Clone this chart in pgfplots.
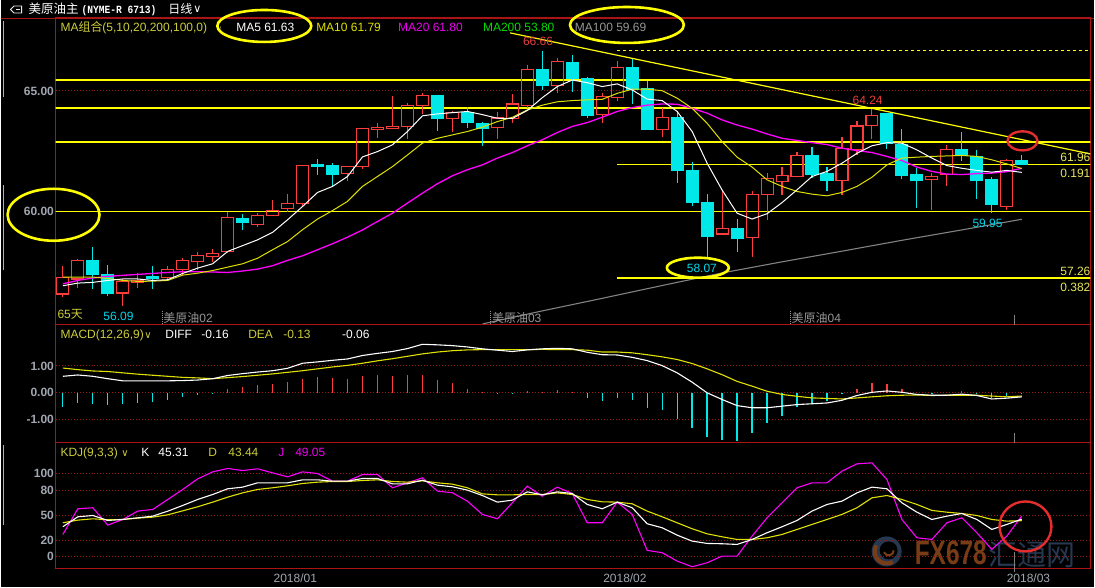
\documentclass[border=0pt]{standalone}
\usepackage{pgfplots}
\pgfplotsset{compat=1.18}
\usepackage{pgfplotstable}
\usepackage{fontspec}
\setmainfont{Liberation Sans}
\newfontfamily\cjk{Noto Sans CJK SC}
\newfontfamily\djv{DejaVu Sans}
\newfontfamily\mono{Liberation Mono}
\newcommand\fs[1]{\fontsize{#1bp}{#1bp}\selectfont}

\definecolor{framered}{RGB}{170,20,20}
\definecolor{gridred}{RGB}{150,25,25}
\definecolor{upred}{RGB}{255,60,60}
\definecolor{dncyan}{RGB}{0,232,232}
\definecolor{ma10y}{RGB}{225,225,0}
\definecolor{lvly}{RGB}{255,255,0}
\definecolor{mag}{RGB}{255,0,255}
\definecolor{ma100g}{RGB}{130,130,130}
\definecolor{tickg}{RGB}{160,166,176}
\definecolor{khaki}{RGB}{205,205,60}
\definecolor{lblred}{RGB}{235,60,60}
\definecolor{lblcyan}{RGB}{0,215,235}
\definecolor{magtxt}{RGB}{240,0,240}
\definecolor{grntxt}{RGB}{0,220,0}
\definecolor{graytxt}{RGB}{150,150,150}
\definecolor{rlbl}{RGB}{230,230,90}
\definecolor{wmbrown}{RGB}{120,60,22}
\definecolor{wmblue}{RGB}{38,55,80}
\definecolor{circred}{RGB}{230,45,45}

\pgfplotstableread{
i ma5 ma10 ma20
0 56.94 57.30 57.02
1 57.05 57.30 57.16
2 57.08 57.30 57.26
3 57.16 57.24 57.33
4 57.22 57.16 57.37
5 57.22 57.12 57.41
6 57.16 57.13 57.45
7 57.19 57.16 57.49
8 57.45 57.38 57.52
9 57.67 57.46 57.52
10 57.85 57.57 57.51
11 58.36 57.71 57.49
12 58.60 57.85 57.55
13 58.84 58.08 57.63
14 59.15 58.43 57.77
15 59.67 58.77 57.99
16 60.22 59.26 58.18
17 60.80 59.70 58.43
18 61.05 60.05 58.68
19 61.46 60.43 58.95
20 62.27 61.05 59.25
21 62.49 61.46 59.60
22 62.77 61.87 59.94
23 63.32 62.35 60.36
24 63.97 62.84 60.77
25 64.05 63.04 61.16
26 64.10 63.18 61.49
27 64.15 63.32 61.74
28 64.02 63.50 61.94
29 63.87 63.73 62.22
30 63.86 63.91 62.45
31 64.19 64.21 62.73
32 64.72 64.41 62.98
33 65.18 64.55 63.28
34 65.45 64.60 63.53
35 65.34 64.63 63.69
36 65.18 64.65 63.91
37 65.29 64.90 64.15
38 65.04 65.07 64.31
39 64.66 65.07 64.41
40 64.60 65.01 64.46
41 64.15 64.70 64.45
42 63.32 64.28 64.28
43 62.01 63.66 64.08
44 60.90 62.90 63.80
45 59.94 62.26 63.59
46 59.70 61.85 63.42
47 59.92 61.32 63.22
48 60.38 61.05 63.04
49 60.91 60.84 62.95
50 61.46 60.73 62.86
51 61.67 60.66 62.78
52 62.01 60.80 62.63
53 62.42 61.05 62.53
54 62.73 61.43 62.45
55 62.86 61.94 62.29
56 62.84 62.22 62.12
57 62.56 62.26 61.85
58 62.22 62.29 61.67
59 61.91 62.31 61.56
60 61.80 62.33 61.54
61 61.71 62.29 61.58
62 61.64 62.15 61.60
63 61.71 61.98 61.66
64 61.63 61.79 61.80
}\ma

\pgfplotstableread{
i v
28 55.36
32 55.90
36 56.42
40 56.95
44 57.47
48 57.93
52 58.37
56 58.82
60 59.25
64 59.69
}\mahund

\pgfplotstableread{
i bar diff dea
0 -0.54 0.61 0.92
1 -0.39 0.66 0.86
2 -0.41 0.61 0.81
3 -0.47 0.52 0.79
4 -0.44 0.44 0.74
5 -0.39 0.44 0.69
6 -0.36 0.44 0.65
7 -0.27 0.44 0.61
8 -0.17 0.45 0.57
9 -0.10 0.47 0.55
10 -0.04 0.52 0.52
11 0.15 0.64 0.56
12 0.22 0.71 0.60
13 0.30 0.77 0.65
14 0.34 0.82 0.70
15 0.39 0.91 0.76
16 0.51 1.10 0.82
17 0.60 1.15 0.89
18 0.56 1.21 0.96
19 0.52 1.26 1.02
20 0.64 1.39 1.10
21 0.67 1.47 1.19
22 0.64 1.54 1.27
23 0.67 1.65 1.36
24 0.67 1.81 1.45
25 0.49 1.79 1.52
26 0.35 1.76 1.57
27 0.15 1.71 1.60
28 0.01 1.64 1.61
29 -0.06 1.59 1.61
30 -0.06 1.54 1.61
31 0.05 1.60 1.61
32 0.02 1.64 1.62
33 0.09 1.66 1.61
34 0.02 1.64 1.61
35 -0.21 1.51 1.59
36 -0.32 1.42 1.52
37 -0.21 1.41 1.52
38 -0.29 1.32 1.49
39 -0.59 1.20 1.42
40 -0.66 1.01 1.34
41 -1.00 0.74 1.24
42 -1.34 0.39 1.09
43 -1.67 -0.01 0.89
44 -1.79 -0.26 0.67
45 -1.82 -0.49 0.42
46 -1.52 -0.57 0.24
47 -1.15 -0.57 0.05
48 -0.89 -0.51 -0.07
49 -0.54 -0.45 -0.14
50 -0.41 -0.42 -0.20
51 -0.32 -0.39 -0.22
52 -0.06 -0.29 -0.24
53 0.15 -0.11 -0.20
54 0.37 0.01 -0.16
55 0.34 0.06 -0.12
56 0.15 0.01 -0.10
57 0.00 -0.07 -0.09
58 -0.06 -0.10 -0.11
59 0.00 -0.10 -0.10
60 0.05 -0.06 -0.10
61 -0.02 -0.11 -0.10
62 -0.21 -0.24 -0.13
63 -0.11 -0.21 -0.16
64 -0.06 -0.16 -0.13
}\macd

\pgfplotstableread{
i k d j
0 36.1 40.9 26.8
1 48.1 44.1 57.8
2 49.7 45.7 59.0
3 43.7 44.5 38.1
4 44.9 44.9 44.9
5 46.9 46.5 55.0
6 48.9 47.7 57.0
7 54.9 50.5 69.0
8 61.8 55.3 81.1
9 69.0 60.2 93.9
10 75.0 65.8 102.3
11 81.9 71.8 106.4
12 83.9 77.0 103.9
13 89.1 81.1 106.0
14 89.1 83.1 101.1
15 89.1 85.5 96.3
16 92.7 88.3 102.3
17 92.7 89.9 100.3
18 91.1 90.7 91.1
19 91.1 90.7 91.1
20 94.3 91.9 99.1
21 94.3 92.7 99.1
22 87.9 90.7 83.1
23 87.9 89.9 89.1
24 92.3 91.5 95.1
25 86.3 89.1 79.1
26 84.3 87.5 77.1
27 80.3 83.1 67.0
28 73.8 75.8 51.0
29 65.8 74.6 45.7
30 68.2 74.6 65.0
31 78.2 75.0 85.1
32 74.6 75.0 73.0
33 78.2 77.0 83.9
34 76.2 75.0 76.2
35 63.0 69.0 40.9
36 57.8 66.2 40.9
37 65.8 65.8 65.8
38 59.0 63.8 51.0
39 39.7 55.0 7.6
40 34.9 48.1 4.8
41 26.0 40.9 -5.3
42 18.8 33.7 -12.1
43 16.0 27.6 -7.3
44 15.6 24.0 0.7
45 14.8 20.8 0.7
46 20.8 20.8 24.8
47 28.9 22.8 46.9
48 36.1 26.8 65.0
49 43.7 32.9 83.1
50 55.0 38.9 89.1
51 63.0 44.9 89.1
52 67.0 51.0 103.2
53 77.0 59.0 112.0
54 83.9 71.0 113.2
55 81.9 73.8 93.1
56 65.0 69.0 44.9
57 53.7 63.0 22.8
58 44.9 55.8 20.8
59 48.9 53.7 40.9
60 52.1 52.1 46.9
61 44.9 49.7 28.9
62 32.9 44.9 8.8
63 38.9 42.9 24.8
64 45.31 43.44 49.05
}\kdj

\pgfplotsset{panel/.style={
  scale only axis, width=1036bp,
  xmin=-0.487, xmax=68.58,
  axis line style={draw=framered, line width=1.2bp},
  xtick=\empty,
  major tick length=0pt,
  ytick style={draw=none},
  ymajorgrids,
  major grid style={draw=gridred, line width=0.9bp, dash pattern=on 1bp off 2bp},
  yticklabel style={font=\fs{12}\bfseries, text=tickg, inner sep=1.5bp},
}}

\begin{document}
\begin{tikzpicture}
\begin{scope}[x=1bp,y=-1bp]
\useasboundingbox (0,0) rectangle (1095,588);
\fill[black] (0,0) rectangle (1095,588);
% watermark
\fill[wmblue] (887,552) circle [radius=15bp];
\fill[black] (889,551) circle [radius=9bp];
\draw[wmbrown, line width=4bp] (887,552) ++(150:12bp) arc[start angle=150, end angle=300, radius=12bp];
\draw[wmbrown, line width=2bp] (889,551) ++(200:5bp) arc[start angle=200, end angle=360, radius=5bp];
\node[anchor=base west, inner sep=0pt, font=\bfseries\fs{34}, text=wmbrown, xscale=0.72] at (915,565) {FX678};
\node[anchor=base west, inner sep=0pt, font=\cjk\fs{29}, text=wmblue] at (989,566) {汇通网};
\end{scope}

% ---------------- main price panel ----------------
\begin{axis}[panel, at={(55bp,-18bp)}, anchor=north west, height=307bp,
  ymin=55.331, ymax=68.017, ytick={60,65}, yticklabels={60.00,65.00}]
\addplot[lvly, line width=1.4bp] coordinates {(-1,65.45) (70,65.45)};
\addplot[lvly, line width=1.4bp] coordinates {(-1,64.30) (70,64.30)};
\addplot[lvly, line width=1.4bp] coordinates {(-1,62.89) (70,62.89)};
\addplot[lvly, line width=1.4bp] coordinates {(-1,60.00) (70,60.00)};
\addplot[lvly, line width=1.4bp] coordinates {(37,61.96) (70,61.96)};
\addplot[lvly, line width=1.4bp] coordinates {(37,57.26) (70,57.26)};
\addplot[lvly, line width=1.2bp, dash pattern=on 3bp off 3bp] coordinates {(37,66.68) (70,66.68)};
% up candles (hollow red)
\foreach \i/\vo/\vh/\vl/\vc in {
0/56.60/57.77/56.46/57.30, 1/57.22/58.06/56.85/57.97, 4/56.64/57.22/56.09/57.13,
5/57.09/57.45/56.85/57.16, 7/57.30/57.74/57.19/57.63, 8/57.63/58.08/57.40/58.00,
9/57.96/58.35/57.60/58.21, 10/58.15/58.48/57.91/58.29, 11/58.37/60.01/58.29/59.78,
13/59.49/59.94/59.39/59.86, 14/59.86/60.50/59.81/60.05, 15/60.15/60.74/60.01/60.36,
16/60.36/61.94/60.25/61.90, 19/61.60/61.90/61.29/61.87, 20/61.87/63.48/61.76/63.46,
21/63.39/63.66/63.07/63.50, 22/63.46/64.79/63.41/63.52, 23/63.53/64.52/63.03/64.41,
24/64.41/64.90/64.05/64.82, 26/63.86/64.17/63.29/64.10, 29/63.48/64.12/63.02/63.88,
30/63.86/64.88/63.69/64.46, 31/64.41/66.07/64.28/65.90, 33/65.23/66.35/64.90/66.21,
36/64.02/64.93/63.66/64.77, 37/64.74/66.25/64.60/65.98, 40/63.42/64.28/63.08/63.91,
44/59.08/60.84/59.08/59.32, 46/58.94/60.87/58.15/60.73, 47/60.70/61.62/59.67/61.39,
48/61.25/61.87/60.70/61.49, 49/61.46/62.49/61.43/62.34, 52/61.29/63.11/60.70/62.63,
53/62.59/63.76/62.35/63.55, 54/63.58/64.24/63.02/63.98, 58/61.32/61.60/60.08/61.46,
59/61.53/62.77/61.05/62.59, 63/60.22/62.19/60.08/62.11}{
  \pgfmathsetmacro\xa{\i-0.4}\pgfmathsetmacro\xb{\i+0.4}
  \edef\tmp{%
    \noexpand\addplot[upred, line width=1.1bp, forget plot] coordinates {(\i,\vc) (\i,\vh)};
    \noexpand\addplot[upred, line width=1.1bp, forget plot] coordinates {(\i,\vl) (\i,\vo)};
    \noexpand\addplot[draw=upred, fill=none, line width=1.1bp, forget plot] coordinates {(\xa,\vo) (\xb,\vo) (\xb,\vc) (\xa,\vc)} -- cycle;
  }\tmp
}
% down candles (filled cyan)
\foreach \i/\vo/\vh/\vl/\vc in {
2/57.97/58.54/56.81/57.40, 3/57.42/57.81/56.50/56.64, 6/57.33/57.77/56.81/57.26,
12/59.74/59.92/59.26/59.56, 17/61.94/62.19/61.53/61.87, 18/61.90/62.01/61.05/61.53,
25/64.79/64.83/63.36/63.86, 27/64.09/64.32/63.47/63.69, 28/63.66/63.72/62.73/63.44,
32/65.90/66.66/65.04/65.22, 34/66.18/66.49/64.97/65.50, 35/65.52/65.56/63.87/63.98,
38/65.98/66.35/64.45/65.07, 39/65.11/65.43/63.42/63.42, 41/63.91/64.15/61.21/61.71,
42/61.70/62.04/60.22/60.39, 43/60.40/60.74/58.07/58.98, 45/59.32/59.70/58.32/58.88,
50/62.34/62.66/61.39/61.54, 51/61.60/61.87/60.88/61.29, 55/64.05/64.08/62.60/62.84,
56/62.77/63.43/61.35/61.49, 57/61.53/61.80/60.15/61.29, 60/62.56/63.28/62.12/62.31,
61/62.29/62.56/60.54/61.29, 62/61.32/61.42/59.95/60.29, 64/62.11/62.33/61.94/61.94}{
  \pgfmathsetmacro\xa{\i-0.4}\pgfmathsetmacro\xb{\i+0.4}
  \edef\tmp{%
    \noexpand\addplot[dncyan, line width=1.1bp, forget plot] coordinates {(\i,\vl) (\i,\vh)};
    \noexpand\addplot[draw=dncyan, fill=dncyan, line width=1.1bp, forget plot] coordinates {(\xa,\vo) (\xb,\vo) (\xb,\vc) (\xa,\vc)} -- cycle;
  }\tmp
}
\addplot[ma100g, line width=1.1bp] table[x=i,y=v]{\mahund};
\addplot[mag, line width=1.3bp] table[x=i,y=ma20]{\ma};
\addplot[ma10y, line width=1bp] table[x=i,y=ma10]{\ma};
\addplot[white, line width=1bp] table[x=i,y=ma5]{\ma};
\addplot[lvly, line width=1.2bp] coordinates {(29.85,67.40) (68.85,62.36)};
\end{axis}

% ---------------- MACD panel ----------------
\begin{axis}[panel, at={(55bp,-325bp)}, anchor=north west, height=118bp,
  ymin=-1.873, ymax=2.547, ytick={-1,0,1}, yticklabels={-1.00,0.00,1.00}]
\addplot[ycomb, upred, line width=1.3bp, restrict y to domain=0:10] table[x=i,y=bar]{\macd};
\addplot[ycomb, dncyan, line width=1.3bp, restrict y to domain=-10:0] table[x=i,y=bar]{\macd};
\addplot[ma10y, line width=1.1bp] table[x=i,y=dea]{\macd};
\addplot[white, line width=1.1bp] table[x=i,y=diff]{\macd};
\end{axis}

% ---------------- KDJ panel ----------------
\begin{axis}[panel, at={(55bp,-443bp)}, anchor=north west, height=126bp,
  ymin=-14.1, ymax=137.7, ytick={0,20,50,80,100}, yticklabels={0,20,50,80,100}]
\addplot[mag, line width=1.1bp] table[x=i,y=j]{\kdj};
\addplot[ma10y, line width=1.1bp] table[x=i,y=d]{\kdj};
\addplot[white, line width=1.1bp] table[x=i,y=k]{\kdj};
\end{axis}

\begin{scope}[x=1bp,y=-1bp, every node/.style={inner sep=0pt, outer sep=0pt, anchor=base west}]
% header
\draw[framered, line width=1.2bp] (0,18.5) -- (1095,18.5);
\draw[white!85!gray, line width=0.9bp] (10,9.5) -- (13.5,6) -- (21,6) -- (21,13) -- (13.5,13) -- cycle;
\draw[white!85!gray, line width=0.9bp] (15,9.5) -- (19,9.5);
\node[font=\cjk\fs{12.5}, text=white] at (28,13.8) {美原油主};
\node[font=\mono\bfseries\fs{9.6}, text=white, yscale=1.15] at (81,13.3) {(NYME-R 6713)};
\node[font=\cjk\fs{12}, text=white] at (168,13.6) {日线};
\node[font=\djv\fs{11}, text=white] at (193,13) {∨};
% left gray tab lines
\draw[gray!60, line width=0.8bp] (2.5,21) -- (2.5,97);
\draw[gray!60, line width=0.8bp] (2.5,185) -- (2.5,270);
\draw[gray!60, line width=0.8bp] (2.5,445) -- (2.5,526);
% main legend
\node[font=\fs{12}, text=khaki] at (60,31.3) {MA{\cjk 组合}(5,10,20,200,100,0)};
\node[font=\djv\fs{8}, text=graytxt] at (216,31.5) {∨};
\node[font=\fs{12}, text=white] at (236,31.3) {MA5 61.63};
\node[font=\fs{12}, text=ma10y] at (316,31.3) {MA10 61.79};
\node[font=\fs{12}, text=magtxt] at (398,31.3) {MA20 61.80};
\node[font=\fs{12}, text=grntxt] at (483,31.3) {MA200 53.80};
\node[font=\fs{12}, text=graytxt] at (575,31.3) {MA100 59.69};
% price annotations
\node[anchor=base, font=\fs{12}, text=lblred] at (538,45.3) {66.66};
\node[anchor=base, font=\fs{12}, text=lblred] at (868,104.3) {64.24};
\node[anchor=base, font=\fs{12}, text=lblcyan] at (702,272.3) {58.07};
\node[anchor=base, font=\fs{12}, text=lblcyan] at (988,227.3) {59.95};
\node[anchor=base, font=\fs{12}, text=lblcyan] at (118,321.3) {56.09};
\node[font=\fs{12}, text=khaki] at (57,319.3) {65{\cjk 天}};
\draw[graytxt, line width=0.8bp, dash pattern=on 1bp off 1bp] (161.5,311) -- (161.5,324);
\draw[graytxt, line width=0.8bp, dash pattern=on 1bp off 1bp] (490.5,311) -- (490.5,324);
\draw[graytxt, line width=0.8bp, dash pattern=on 1bp off 1bp] (790.5,311) -- (790.5,324);
\node[font=\fs{12}, text=graytxt] at (163,322.5) {{\cjk 美原油}02};
\node[font=\fs{12}, text=graytxt] at (492,322.5) {{\cjk 美原油}03};
\node[font=\fs{12}, text=graytxt] at (792,322.5) {{\cjk 美原油}04};
\node[anchor=base east, font=\fs{12}, text=rlbl] at (1091,161.5) {61.96};
\node[anchor=base east, font=\fs{12}, text=rlbl] at (1091,177.5) {0.191};
\node[anchor=base east, font=\fs{12}, text=rlbl] at (1091,275.5) {57.26};
\node[anchor=base east, font=\fs{12}, text=rlbl] at (1091,291.5) {0.382};
% gray markers
\draw[gray, line width=1bp] (1015,315) -- (1015,325);
\draw[gray, line width=1bp] (1015,433) -- (1015,443);
\draw[gray, line width=1bp] (1015,553) -- (1015,573);
% MACD legend
\node[font=\fs{12}, text=khaki] at (60,339.3) {MACD(12,26,9)};
\node[font=\djv\fs{10}, text=khaki] at (144,339.3) {∨};
\node[font=\fs{12}, text=white] at (165,339.3) {DIFF};
\node[font=\fs{12}, text=white] at (201,339.3) {-0.16};
\node[font=\fs{12}, text=khaki] at (248,339.3) {DEA};
\node[font=\fs{12}, text=khaki] at (283,339.3) {-0.13};
\node[font=\fs{12}, text=white] at (342,339.3) {-0.06};
% KDJ legend
\node[font=\fs{12}, text=khaki] at (60,457.3) {KDJ(9,3,3)};
\node[font=\djv\fs{10}, text=khaki] at (121,457.3) {∨};
\node[font=\fs{12}, text=white] at (141,457.3) {K};
\node[font=\fs{12}, text=white] at (158,457.3) {45.31};
\node[font=\fs{12}, text=khaki] at (208,457.3) {D};
\node[font=\fs{12}, text=khaki] at (228,457.3) {43.44};
\node[font=\fs{12}, text=magtxt] at (278,457.3) {J};
\node[font=\fs{12}, text=magtxt] at (295,457.3) {49.05};
% dates
\node[anchor=base, font=\fs{12}, text=tickg] at (295,583.5) {2018/01};
\node[anchor=base, font=\fs{12}, text=tickg] at (625,583.5) {2018/02};
\node[anchor=base, font=\fs{12}, text=tickg] at (1029,583.5) {2018/03};
% highlight ellipses
\draw[lvly, line width=2.6bp] (264,26) ellipse [x radius=47bp, y radius=16bp];
\draw[lvly, line width=2.6bp] (627,25) ellipse [x radius=57bp, y radius=18bp];
\draw[lvly, line width=2.6bp] (53,215) ellipse [x radius=46bp, y radius=26bp];
\draw[lvly, line width=2.6bp] (698,268) ellipse [x radius=31bp, y radius=10bp];
\draw[circred, line width=2.4bp] (1023,141) ellipse [x radius=15bp, y radius=9.5bp];
\draw[circred, line width=2.4bp] (1026,527) ellipse [x radius=26bp, y radius=25bp];
\end{scope}
\end{tikzpicture}
\end{document}
